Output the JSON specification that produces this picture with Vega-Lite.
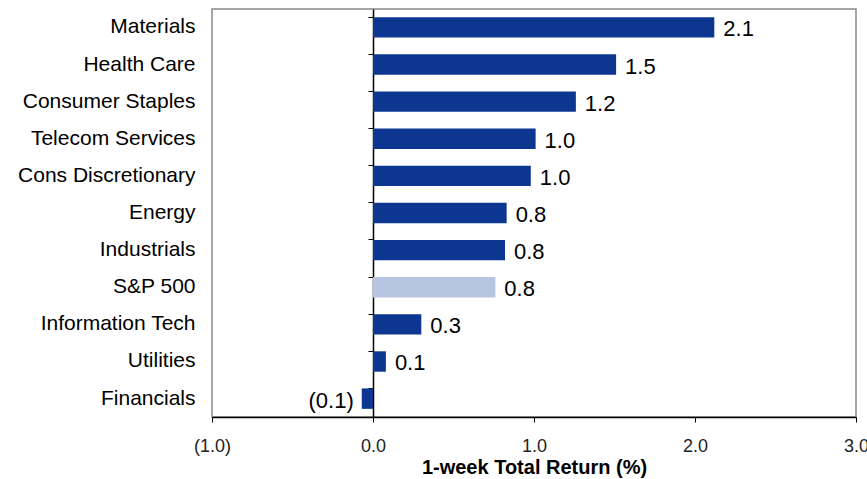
{
  "$schema": "https://vega.github.io/schema/vega-lite/v6.json",
  "width": 644,
  "height": 408,
  "autosize": "none",
  "padding": {"left": 212, "top": 9, "right": 11, "bottom": 62},
  "background": "white",
  "config": {
    "view": {"stroke": "#888888", "strokeWidth": 1.5},
    "font": "Liberation Sans"
  },
  "data": {
    "values": [
      {"sector": "Materials", "value": 2.12, "label": "2.1", "group": "sector"},
      {"sector": "Health Care", "value": 1.51, "label": "1.5", "group": "sector"},
      {"sector": "Consumer Staples", "value": 1.26, "label": "1.2", "group": "sector"},
      {"sector": "Telecom Services", "value": 1.01, "label": "1.0", "group": "sector"},
      {"sector": "Cons Discretionary", "value": 0.98, "label": "1.0", "group": "sector"},
      {"sector": "Energy", "value": 0.83, "label": "0.8", "group": "sector"},
      {"sector": "Industrials", "value": 0.82, "label": "0.8", "group": "sector"},
      {"sector": "S&P 500", "value": 0.76, "label": "0.8", "group": "index"},
      {"sector": "Information Tech", "value": 0.30, "label": "0.3", "group": "sector"},
      {"sector": "Utilities", "value": 0.08, "label": "0.1", "group": "sector"},
      {"sector": "Financials", "value": -0.07, "label": "(0.1)", "group": "sector"}
    ]
  },
  "encoding": {
    "y": {
      "field": "sector",
      "type": "nominal",
      "sort": null,
      "scale": {"paddingInner": 0.45, "paddingOuter": 0.22}
    },
    "x": {
      "field": "value",
      "type": "quantitative",
      "scale": {"domain": [-1, 3], "nice": false, "zero": false}
    }
  },
  "layer": [
    {
      "mark": {"type": "bar"},
      "encoding": {
        "y": {
          "field": "sector",
          "type": "nominal",
          "sort": null,
          "axis": {
            "title": null,
            "domain": false,
            "ticks": false,
            "labelFontSize": 21,
            "labelColor": "black",
            "labelFont": "Liberation Sans",
            "labelPadding": 17
          }
        },
        "x": {
          "field": "value",
          "type": "quantitative",
          "axis": {
            "title": "1-week Total Return (%)",
            "titleFontSize": 20,
            "titleFontWeight": "bold",
            "titleColor": "black",
            "titleFont": "Liberation Sans",
            "titlePadding": 2,
            "values": [-1, 0, 1, 2, 3],
            "labelExpr": "datum.value < 0 ? '(' + format(-datum.value, '.1f') + ')' : format(datum.value, '.1f')",
            "labelFontSize": 18,
            "labelColor": "#222222",
            "labelFont": "Liberation Sans",
            "labelPadding": 15,
            "labelFlush": false,
            "labelOverlap": false,
            "grid": false,
            "domainColor": "black",
            "domainWidth": 1.5,
            "tickColor": "black",
            "tickSize": 5
          }
        },
        "color": {
          "field": "group",
          "type": "nominal",
          "scale": {"domain": ["sector", "index"], "range": ["#0D3691", "#B7C5E3"]},
          "legend": null
        }
      }
    },
    {
      "transform": [{"filter": "datum.value >= 0"}],
      "mark": {"type": "text", "align": "left", "baseline": "middle", "dx": 9, "dy": 2, "fontSize": 22, "font": "Liberation Sans", "color": "black"},
      "encoding": {
        "text": {"field": "label"},
        "y": {
          "field": "sector",
          "type": "nominal",
          "sort": null,
          "axis": {
            "orient": "left",
            "title": null,
            "labels": false,
            "domain": true,
            "domainColor": "black",
            "domainWidth": 1.5,
            "ticks": true,
            "tickColor": "black",
            "tickSize": 5,
            "bandPosition": 0,
            "offset": -161
          }
        }
      }
    },
    {
      "transform": [{"filter": "datum.value < 0"}],
      "mark": {"type": "text", "align": "right", "baseline": "middle", "dx": -8, "dy": 2, "fontSize": 22, "font": "Liberation Sans", "color": "black"},
      "encoding": {
        "text": {"field": "label"},
        "y": {"field": "sector", "type": "nominal", "sort": null, "axis": null}
      }
    }
  ],
  "resolve": {"axis": {"y": "independent"}}
}
